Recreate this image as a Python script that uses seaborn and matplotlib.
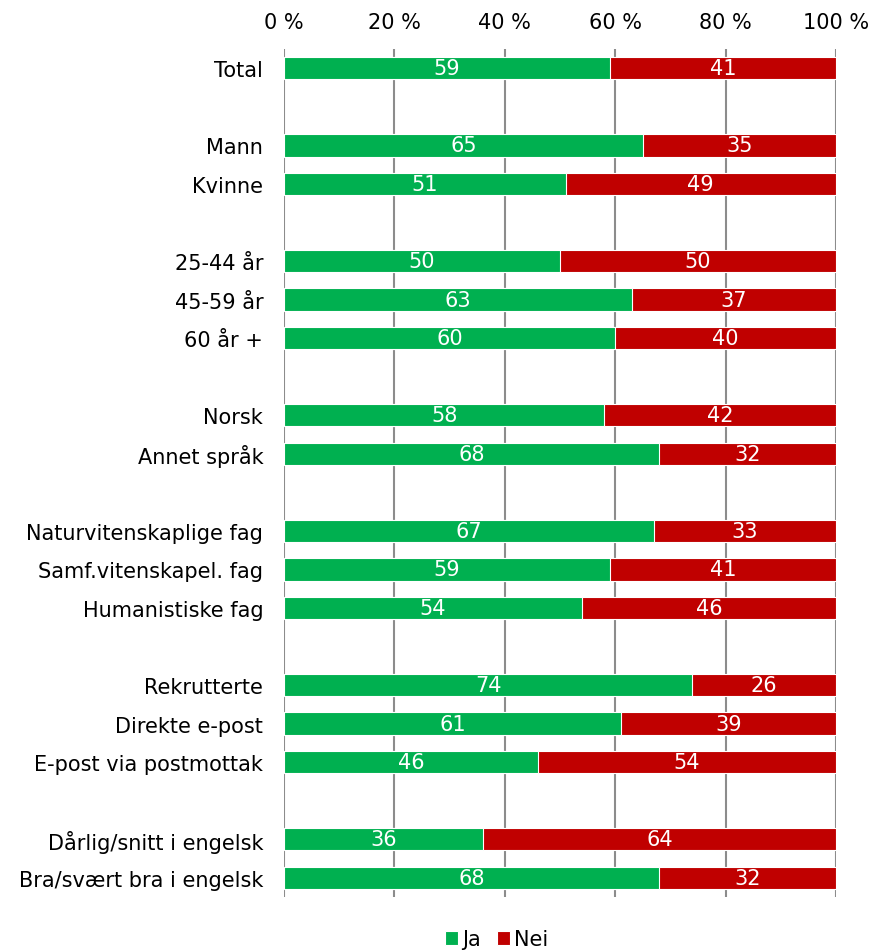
import matplotlib.pyplot as plt
import pandas as pd
import seaborn as sns

# rader i figuren, tomme strenger er mellomrom mellom gruppene
RADER = [
    "Total", " ",
    "Mann", "Kvinne", "  ",
    "25-44 år", "45-59 år", "60 år +", "   ",
    "Norsk", "Annet språk", "    ",
    "Naturvitenskaplige fag", "Samf.vitenskapel. fag", "Humanistiske fag", "     ",
    "Rekrutterte", "Direkte e-post", "E-post via postmottak", "      ",
    "Dårlig/snitt i engelsk", "Bra/svært bra i engelsk",
]
KATEGORIER = [r for r in RADER if r.strip()]
JA = [59, 65, 51, 50, 63, 60, 58, 68, 67, 59, 54, 74, 61, 46, 36, 68]
NEI = [41, 35, 49, 50, 37, 40, 42, 32, 33, 41, 46, 26, 39, 54, 64, 32]
X_TICKS = [0, 20, 40, 60, 80, 100]

GRONN = "#00B050"
ROD = "#C00000"
FS = 15

df = pd.DataFrame({"gruppe": KATEGORIER, "ja": JA, "nei": NEI})
df["sum"] = df["ja"] + df["nei"]

sns.set_theme(style="white")
plt.rcParams["font.family"] = ["DejaVu Sans"]

fig = plt.figure(figsize=(8.72, 9.53), dpi=100)
ax = fig.add_axes([0.3257, 0.0577, 0.633, 0.8898])

sns.barplot(data=df, y="gruppe", x="sum", order=RADER, color=ROD, saturation=1,
            width=0.58, edgecolor="white", linewidth=0.8, ax=ax, label="Nei", zorder=3)
sns.barplot(data=df, y="gruppe", x="ja", order=RADER, color=GRONN, saturation=1,
            width=0.58, edgecolor="white", linewidth=0.8, ax=ax, label="Ja", zorder=3)

pos = {r: i for i, r in enumerate(RADER)}
for _, rad in df.iterrows():
    y = pos[rad["gruppe"]]
    ax.text(rad["ja"] / 2, y, f"{rad['ja']}", ha="center", va="center",
            color="white", fontsize=FS, zorder=4)
    ax.text(rad["ja"] + rad["nei"] / 2, y, f"{rad['nei']}", ha="center", va="center",
            color="white", fontsize=FS, zorder=4)

ax.set_xlim(0, 100)
ax.set_ylim(len(RADER) - 0.5, -0.5)
ax.set_xticks(X_TICKS)
ax.set_xticklabels([f"{t} %" for t in X_TICKS])
ax.xaxis.tick_top()
ax.tick_params(axis="x", length=0, pad=12, labelsize=FS, colors="black")
ax.tick_params(axis="y", length=0, pad=15, labelsize=FS, colors="black")
ax.set_xlabel("")
ax.set_ylabel("")
for t in X_TICKS:
    ax.axvline(t, color="#8c8c8c", linewidth=1.5, zorder=1)
for side in ["top", "right", "bottom", "left"]:
    ax.spines[side].set_visible(False)

handles, labels = ax.get_legend_handles_labels()
order = [labels.index("Ja"), labels.index("Nei")]
leg = ax.legend([handles[i] for i in order], [labels[i] for i in order],
                loc="center", bbox_to_anchor=(0.385, -0.05), ncol=2, frameon=False,
                fontsize=FS, handlelength=0.6, handleheight=0.6, handletextpad=0.2,
                columnspacing=0.8)
for txt in leg.get_texts():
    txt.set_color("black")

fig.savefig("out.png", dpi=100)
